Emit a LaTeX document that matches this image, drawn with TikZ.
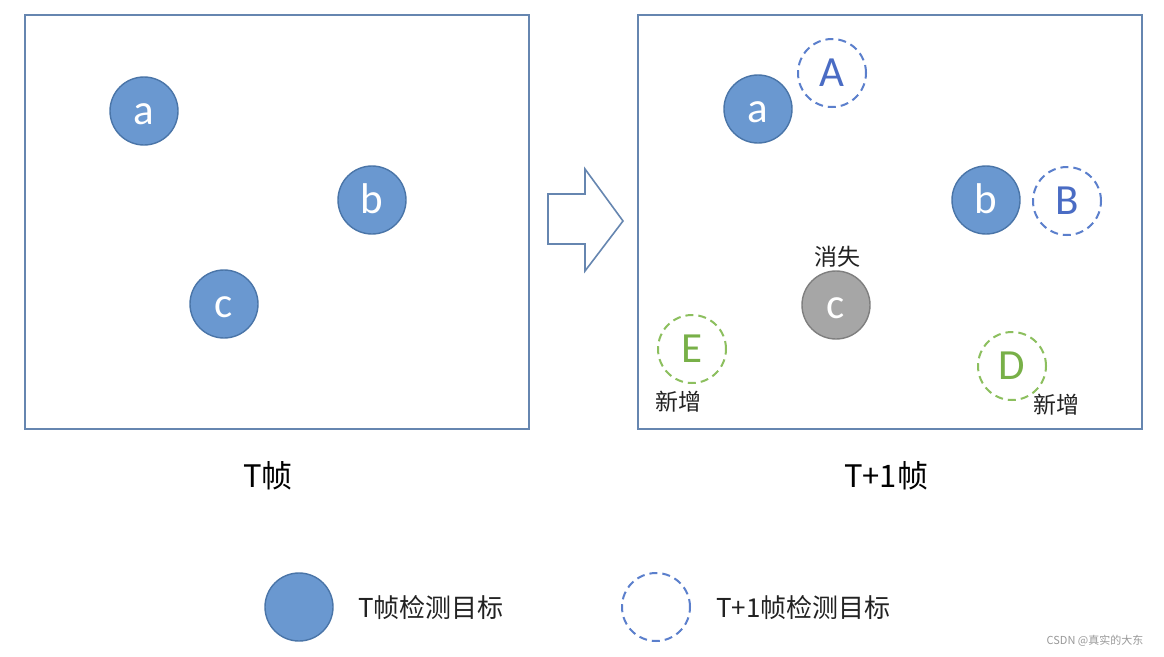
\documentclass[tikz,border=0pt]{standalone}
\usepackage{fontspec}
\setmainfont{Carlito}
\newfontfamily\cjk{Noto Sans CJK SC}
\definecolor{fillblue}{HTML}{6A98D0}
\definecolor{edgeblue}{HTML}{4A75A8}
\definecolor{dashblue}{HTML}{5B7FCC}
\definecolor{letterblue}{HTML}{4A6CC4}
\definecolor{dashgreen}{HTML}{8CBF5E}
\definecolor{lettergreen}{HTML}{78B048}
\definecolor{greyfill}{HTML}{A6A6A6}
\definecolor{greyedge}{HTML}{7F7F7F}
\definecolor{framecol}{HTML}{6686B0}
\definecolor{textcol}{HTML}{222222}
\tikzset{
  framebox/.style={draw=framecol, line width=1.6pt, minimum width=504pt, minimum height=414pt, inner sep=0pt},
  objbase/.style={circle, minimum size=68pt, inner sep=0pt, font=\fontsize{43}{43}\selectfont, text height=26pt, text depth=0pt},
  tobj/.style={objbase, draw=edgeblue, line width=1.4pt, fill=fillblue, text=white},
  nobj/.style={objbase, draw=dashblue, line width=2pt, dash pattern=on 8pt off 5pt, text=letterblue},
  newobj/.style={objbase, draw=dashgreen, line width=2pt, dash pattern=on 8pt off 5pt, text=lettergreen},
  lostobj/.style={objbase, draw=greyedge, line width=1.4pt, fill=greyfill, text=white},
  smalllab/.style={text=textcol, font=\cjk\fontsize{23}{23}\selectfont, inner sep=0pt},
  biglab/.style={text=black, font=\cjk\fontsize{31}{31}\selectfont, inner sep=0pt},
  leglab/.style={text=textcol, font=\cjk\fontsize{26}{26}\selectfont, inner sep=0pt, anchor=west},
}
\begin{document}
\begin{tikzpicture}[x=1pt,y=-1pt]
\useasboundingbox[fill=white] (0,0) rectangle (1164,656);
% frames
\node[framebox] (f1) at (277,222) {};
\node[framebox] (f2) at (890,222) {};
% block arrow
\draw[draw=framecol, line width=1.6pt, line join=miter] (548,194) -- (585,194) -- (585,169) -- (623,221) -- (585,271) -- (585,244) -- (548,244) -- cycle;
% left frame objects
\node[tobj] (a1) at (144,111) {a};
\node[tobj] (b1) at (372,200) {b};
\node[tobj] (c1) at (224,304) {c};
% right frame objects
\node[tobj] (a2) at (758,109) {a};
\node[nobj] (A) at (832,73) {A};
\node[tobj] (b2) at (986,200) {b};
\node[nobj] (B) at (1067,201) {B};
\node[lostobj] (c2) at (836,305) {c};
\node[smalllab] (lost) at (837,257) {消失};
\node[newobj] (E) at (692,349) {E};
\node[smalllab] (newE) at (678,402) {新增};
\node[newobj] (D) at (1012,366) {D};
\node[smalllab] (newD) at (1056,405) {新增};
% captions
\node[biglab] (capT) at (268,476) {T帧};
\node[biglab] (capT1) at (886,476) {T+1帧};
% legend
\node[tobj] (legT) at (299,607) {};
\node[leglab] (legTtext) at (358,608) {T帧检测目标};
\node[nobj] (legN) at (656,607) {};
\node[leglab] (legNtext) at (716,608) {T+1帧检测目标};
% watermark
\node[text=gray!80, font=\cjk\fontsize{11}{11}\selectfont, inner sep=0pt] (wm) at (1095,641) {CSDN @真实的大东};
\end{tikzpicture}
\end{document}
